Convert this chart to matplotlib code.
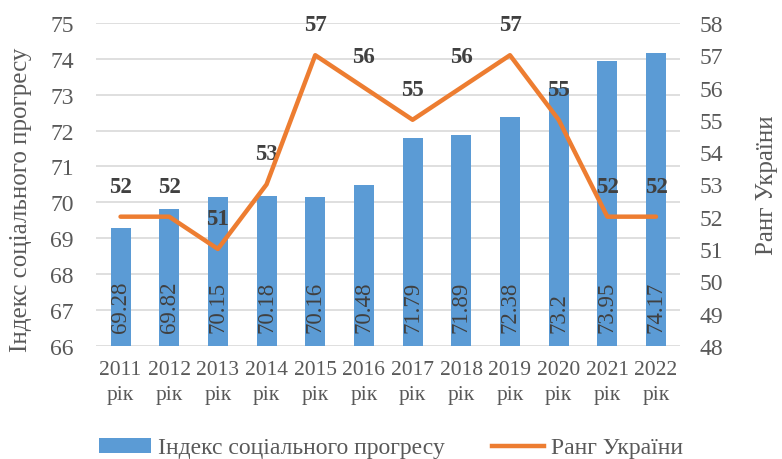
import matplotlib.pyplot as plt
import numpy as np
from matplotlib.lines import Line2D
from matplotlib.patches import Patch

plt.rcParams['font.family'] = ['Liberation Serif', 'DejaVu Serif']

years = ['2011', '2012', '2013', '2014', '2015', '2016', '2017', '2018', '2019', '2020', '2021', '2022']
index_vals = [69.28, 69.82, 70.15, 70.18, 70.16, 70.48, 71.79, 71.89, 72.38, 73.2, 73.95, 74.17]
index_text = ['69.28', '69.82', '70.15', '70.18', '70.16', '70.48', '71.79', '71.89', '72.38', '73.2', '73.95', '74.17']
rank_vals = [52, 52, 51, 53, 57, 56, 55, 56, 57, 55, 52, 52]

bar_color = '#5B9BD5'
line_color = '#ED7D31'
text_color = '#595959'

fig = plt.figure(figsize=(7.82, 4.6), dpi=100)
ax = fig.add_axes([0.123, 0.246, 0.747, 0.702])
ax2 = ax.twinx()

x = np.arange(len(years))
ax.bar(x, [v - 66 for v in index_vals], bottom=66, width=0.41, color=bar_color, zorder=2)
for xi, t in zip(x, index_text):
    ax.annotate(t, (xi, 66), xytext=(0, 10), textcoords='offset points', rotation=90,
                ha='center', va='bottom', fontsize=16.5, color='#404040', zorder=3)

ax.set_ylim(66, 75)
ax.set_yticks(range(66, 76))
ax.set_xlim(-0.5, len(years) - 0.5)
ax.set_xticks(x)
ax.set_xticklabels([y + '\nрік' for y in years], fontsize=15.5, color=text_color, linespacing=1.45)
ax.tick_params(axis='y', labelsize=17, labelcolor=text_color, length=0, pad=16)
ax.tick_params(axis='x', length=0, pad=10)
ax.grid(axis='y', color='#D9D9D9', lw=1.2, zorder=0)
ax.set_axisbelow(True)
for s in ax.spines.values():
    s.set_visible(False)
ax.set_ylabel('Індекс соціального прогресу', fontsize=18, color=text_color)
ax.yaxis.set_label_coords(-0.11, 0.455)

ax2.plot(x, rank_vals, color=line_color, lw=3.2, zorder=4, solid_capstyle='round')
for xi, r in zip(x, rank_vals):
    ax2.annotate(str(r), (xi, r), xytext=(0, 22), textcoords='offset points',
                 ha='center', va='center', fontsize=16.5, fontweight='bold', color='#404040')
ax2.set_ylim(48, 58)
ax2.set_yticks(range(48, 59))
ax2.tick_params(axis='y', labelsize=17, labelcolor=text_color, length=0, pad=14)
for s in ax2.spines.values():
    s.set_visible(False)
ax2.set_ylabel('Ранг України', fontsize=18, color=text_color)
ax2.yaxis.set_label_coords(1.13, 0.5)

handles = [Patch(facecolor=bar_color, label='Індекс соціального прогресу'),
           Line2D([0], [0], color=line_color, lw=3.2, label='Ранг України')]
fig.legend(handles=handles, loc='lower center', bbox_to_anchor=(0.5, -0.045), ncol=2,
           frameon=False, fontsize=17, labelcolor=text_color, columnspacing=2.0,
           handlelength=2.2, handleheight=0.6, handletextpad=0.3)

fig.savefig('out.png', dpi=100)
